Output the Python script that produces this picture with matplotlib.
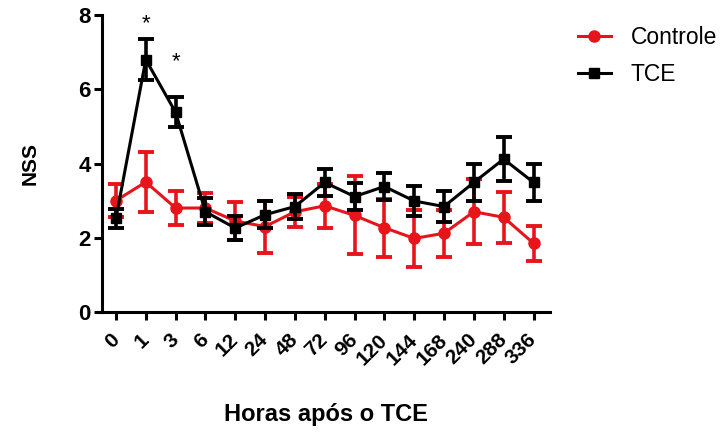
import matplotlib.pyplot as plt
import matplotlib.transforms as mtransforms
from matplotlib.lines import Line2D
import numpy as np

plt.rcParams['font.family'] = ['Liberation Sans', 'DejaVu Sans']

# dados (média ± erro)
horas = ['0', '1', '3', '6', '12', '24', '48', '72', '96', '120', '144', '168', '240', '288', '336']
controle = [3.0, 3.5, 2.8, 2.8, 2.45, 2.3, 2.7, 2.86, 2.6, 2.27, 1.98, 2.12, 2.7, 2.55, 1.85]
controle_err = [0.45, 0.8, 0.45, 0.4, 0.5, 0.7, 0.4, 0.6, 1.05, 0.78, 0.77, 0.63, 0.88, 0.68, 0.47]
tce = [2.52, 6.8, 5.38, 2.7, 2.26, 2.62, 2.84, 3.49, 3.11, 3.38, 2.99, 2.84, 3.49, 4.12, 3.49]
tce_err = [0.25, 0.55, 0.4, 0.36, 0.33, 0.36, 0.33, 0.37, 0.36, 0.37, 0.4, 0.42, 0.5, 0.6, 0.5]
signif = [1, 2]            # índices com asterisco
signif_y = [7.95, 6.93]    # altura dos asteriscos

x = np.arange(len(horas))
vermelho = '#e8141b'

fig = plt.figure(figsize=(7.23, 4.32), dpi=100)
ax = fig.add_axes([0.141, 0.278, 0.62, 0.687])

ax.errorbar(x, controle, yerr=controle_err, color=vermelho, marker='o', markersize=8,
            linewidth=2.2, elinewidth=2.6, capsize=6, capthick=2.8, zorder=2)
ax.errorbar(x, tce, yerr=tce_err, color='black', marker='s', markersize=7.5,
            linewidth=2.2, elinewidth=2.6, capsize=6, capthick=2.8, zorder=3)

for i, yy in zip(signif, signif_y):
    ax.annotate('*', (x[i], yy), xytext=(0, -9), textcoords='offset points',
                ha='center', va='baseline', fontsize=16)

ax.set_xlim(-0.47, 14.56)
ax.set_ylim(0, 8)
ax.set_yticks([0, 2, 4, 6, 8])
ax.set_xticks(x)
ax.set_xticklabels(horas, rotation=45, ha='right', va='center', rotation_mode='anchor')
desloc = mtransforms.ScaledTranslation(5 / 100, 0, fig.dpi_scale_trans)
for lab in ax.get_xticklabels():
    lab.set_transform(lab.get_transform() + desloc)

for s in ['top', 'right']:
    ax.spines[s].set_visible(False)
for s in ['left', 'bottom']:
    ax.spines[s].set_linewidth(2.2)
ax.tick_params(width=2.2, length=6)
ax.tick_params(axis='y', labelsize=16, pad=2)
ax.tick_params(axis='x', labelsize=15, pad=12)
for lab in ax.get_xticklabels() + ax.get_yticklabels():
    lab.set_fontweight('bold')

ax.set_ylabel('NSS', fontsize=15, fontweight='bold', labelpad=28)
ax.set_xlabel('Horas após o TCE', fontsize=17, fontweight='bold', labelpad=25)

handles = [Line2D([], [], color=vermelho, marker='o', markersize=8, linewidth=2.2),
           Line2D([], [], color='black', marker='s', markersize=7.5, linewidth=2.2)]
fig.legend(handles, ['Controle', 'TCE'], loc='upper left', bbox_to_anchor=(0.799, 0.94),
           frameon=False, fontsize=16.5, handlelength=1.45, handletextpad=0.85,
           labelspacing=0.6, borderpad=0, borderaxespad=0)

fig.savefig('out.png', dpi=100)
